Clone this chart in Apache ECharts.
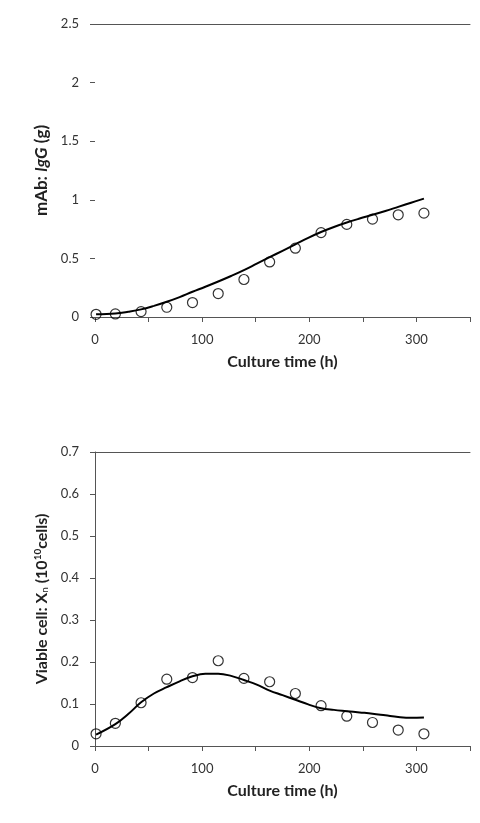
<!DOCTYPE html>
<html>
<head>
<meta charset="utf-8">
<script src="https://cdn.jsdelivr.net/npm/echarts@6/dist/echarts.min.js"></script>
<style>
  html, body { margin: 0; padding: 0; background: #fff; }
  #chart { width: 480px; height: 823px; }
</style>
</head>
<body>
<div id="chart"></div>
<script>
// measured culture times (h)
var obsTime = [1, 19, 43, 67, 91, 115, 139, 163, 187, 211, 235, 259, 283, 307];
// mAb IgG (g), experimental
var mabObs = [0.023, 0.026, 0.046, 0.083, 0.123, 0.2, 0.32, 0.47, 0.587, 0.72, 0.79, 0.835, 0.872, 0.886];
// viable cells (1e10 cells), experimental
var cellObs = [0.029, 0.054, 0.103, 0.159, 0.163, 0.203, 0.161, 0.153, 0.125, 0.096, 0.071, 0.056, 0.038, 0.029];

// model curves
var fitTime = [1, 19, 31, 43, 55, 67, 79, 91, 103, 115, 127, 139, 151, 163, 175, 187, 199, 211, 223, 235, 247, 259, 271, 283, 295, 307];
var mabFit = [0.023, 0.03, 0.045, 0.065, 0.095, 0.13, 0.17, 0.215, 0.258, 0.303, 0.35, 0.4, 0.455, 0.51, 0.565, 0.62, 0.675, 0.725, 0.768, 0.806, 0.84, 0.872, 0.905, 0.94, 0.975, 1.01];
var cellFit = [0.027, 0.052, 0.076, 0.104, 0.125, 0.14, 0.154, 0.166, 0.172, 0.172, 0.167, 0.157, 0.146, 0.132, 0.121, 0.11, 0.099, 0.09, 0.086, 0.083, 0.08, 0.077, 0.073, 0.069, 0.067, 0.068];

var xTicks = {min: 0, max: 350, interval: 50};
var mabAxis = {min: 0, max: 2.5, interval: 0.5};
var cellAxis = {min: 0, max: 0.7, interval: 0.1};

function pairs(xs, ys) {
  return xs.map(function (x, i) { return [x, ys[i]]; });
}

var font = 'Lato, "Open Sans", sans-serif';
var axisColor = '#555';
var labelStyle = {color: '#333', fontSize: 13, fontFamily: font};

function bottomX(gridIndex) {
  return {
    type: 'value', gridIndex: gridIndex, position: 'bottom',
    min: xTicks.min, max: xTicks.max, interval: xTicks.interval,
    name: 'Culture time (h)', nameLocation: 'middle', nameGap: 37,
    nameTextStyle: {color: '#222', fontSize: 16, fontWeight: 'bold', fontFamily: font},
    axisLine: {show: true, lineStyle: {color: axisColor, width: 1}},
    axisTick: {show: true, inside: false, length: 5, lineStyle: {color: axisColor}},
    axisLabel: Object.assign({margin: 16, formatter: function (v) { return v % 100 === 0 ? String(v) : ''; }}, labelStyle),
    splitLine: {show: false}
  };
}
function topX(gridIndex) {
  return {
    type: 'value', gridIndex: gridIndex, position: 'top',
    min: xTicks.min, max: xTicks.max,
    axisLine: {show: true, lineStyle: {color: axisColor, width: 1}},
    axisTick: {show: false}, axisLabel: {show: false}, splitLine: {show: false}
  };
}

var chart = echarts.init(document.getElementById('chart'));
chart.setOption({
  animation: false,
  backgroundColor: '#fff',
  grid: [
    {left: 95, top: 24, width: 375, height: 293},
    {left: 95, top: 452, width: 375, height: 294}
  ],
  xAxis: [bottomX(0), topX(0), bottomX(1), topX(1)],
  yAxis: [
    {
      type: 'value', gridIndex: 0,
      min: mabAxis.min, max: mabAxis.max, interval: mabAxis.interval,
      name: '{b|mAb: }{i|IgG}{b| (g)}', nameLocation: 'middle', nameGap: 41,
      nameTextStyle: {rich: {
        b: {fontSize: 17, fontWeight: 'bold', color: '#222', fontFamily: font},
        i: {fontSize: 17, fontWeight: 'bold', fontStyle: 'italic', color: '#222', fontFamily: font}
      }},
      axisLine: {show: false},
      axisTick: {show: true, inside: false, length: 5, lineStyle: {color: axisColor}},
      axisLabel: Object.assign({margin: 16}, labelStyle),
      splitLine: {show: false}
    },
    {
      type: 'value', gridIndex: 1,
      min: cellAxis.min, max: cellAxis.max, interval: cellAxis.interval,
      name: '{b|Viable cell: }{i|X}{sub|n}{b| (10}{sup|10}{b|cells)}', nameLocation: 'middle', nameGap: 41,
      nameTextStyle: {rich: {
        b: {fontSize: 16, fontWeight: 'bold', color: '#222', fontFamily: font, lineHeight: 20},
        i: {fontSize: 16, fontWeight: 'bold', color: '#222', fontFamily: font, lineHeight: 20},
        sub: {fontSize: 10, color: '#222', fontFamily: font, padding: [7, 0, 0, 0], lineHeight: 20},
        sup: {fontSize: 10, fontWeight: 'bold', color: '#222', fontFamily: font, padding: [0, 0, 7, 0], lineHeight: 20}
      }},
      axisLine: {show: true, lineStyle: {color: axisColor, width: 1}},
      axisTick: {show: true, inside: false, length: 5, lineStyle: {color: axisColor}},
      axisLabel: Object.assign({margin: 16}, labelStyle),
      splitLine: {show: false}
    }
  ],
  series: [
    {
      type: 'line', xAxisIndex: 0, yAxisIndex: 0,
      data: pairs(fitTime, mabFit), smooth: 0.4, symbol: 'none',
      lineStyle: {color: '#000', width: 2}, z: 2
    },
    {
      type: 'scatter', xAxisIndex: 0, yAxisIndex: 0,
      data: pairs(obsTime, mabObs), symbol: 'circle', symbolSize: 10,
      itemStyle: {color: 'rgba(255,255,255,0)', borderColor: '#000', borderWidth: 1.2}, z: 3
    },
    {
      type: 'line', xAxisIndex: 2, yAxisIndex: 1,
      data: pairs(fitTime, cellFit), smooth: 0.4, symbol: 'none',
      lineStyle: {color: '#000', width: 2}, z: 2
    },
    {
      type: 'scatter', xAxisIndex: 2, yAxisIndex: 1,
      data: pairs(obsTime, cellObs), symbol: 'circle', symbolSize: 10,
      itemStyle: {color: 'rgba(255,255,255,0)', borderColor: '#000', borderWidth: 1.2}, z: 3
    }
  ]
});
</script>
</body>
</html>
